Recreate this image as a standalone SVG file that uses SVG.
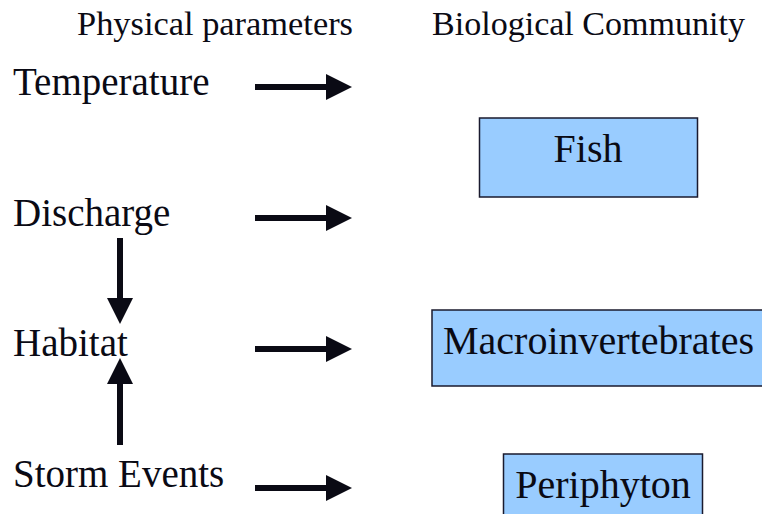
<svg xmlns="http://www.w3.org/2000/svg" width="762" height="514" viewBox="0 0 762 514">
  <style>
    text { font-family: 'Liberation Serif', 'Times New Roman', Times, serif; fill: #0a0a14; }
    .hdr { font-size: 34px; }
    .lbl { font-size: 39px; }
    .box text { font-size: 40px; text-anchor: middle; }
    .box rect { fill: #99CCFF; stroke: #1a1a2e; stroke-width: 1.5; }
    .conn path { stroke: #0a0a14; stroke-width: 6; fill: none; marker-end: url(#head); }
  </style>
  <defs>
    <marker id="head" viewBox="0 0 26 26" refX="0" refY="13" markerWidth="26" markerHeight="26" markerUnits="userSpaceOnUse" orient="auto">
      <path d="M0,0 L26,13 L0,26 Z" fill="#0a0a14"/>
    </marker>
  </defs>
  <rect width="762" height="514" fill="#ffffff"/>

  <g id="headers">
    <text class="hdr" x="77" y="35" textLength="276" lengthAdjust="spacingAndGlyphs">Physical parameters</text>
    <text class="hdr" x="432" y="35" textLength="313" lengthAdjust="spacingAndGlyphs">Biological Community</text>
  </g>

  <g id="temperature"><text class="lbl" x="13" y="95">Temperature</text></g>
  <g id="discharge"><text class="lbl" x="13" y="226">Discharge</text></g>
  <g id="habitat"><text class="lbl" x="13" y="356">Habitat</text></g>
  <g id="storm-events"><text class="lbl" x="13" y="487">Storm Events</text></g>

  <g id="fish" class="box">
    <rect x="479.5" y="118" width="218" height="79"/>
    <text x="588" y="162">Fish</text>
  </g>
  <g id="macroinvertebrates" class="box">
    <rect x="432" y="310" width="340" height="76"/>
    <text x="598.5" y="354">Macroinvertebrates</text>
  </g>
  <g id="periphyton" class="box">
    <rect x="503.5" y="454" width="199" height="80"/>
    <text x="603" y="498">Periphyton</text>
  </g>

  <g id="connectors" class="conn">
    <path d="M255,87 H326"/>
    <path d="M255,218 H326"/>
    <path d="M255,349 H326"/>
    <path d="M255,488 H326"/>
    <path d="M120,238 V298"/>
    <path d="M120,445 V384"/>
  </g>
</svg>
